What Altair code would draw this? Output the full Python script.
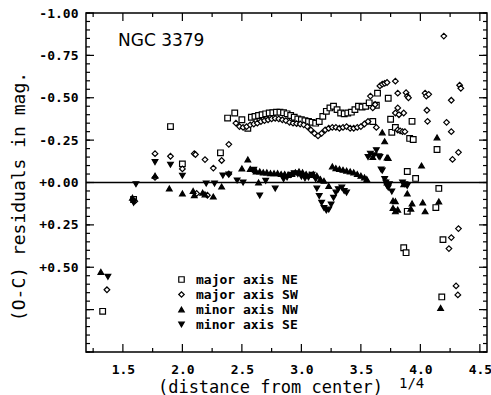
import altair as alt
import pandas as pd

# ---------------- data ----------------
series_names = ["major axis NE", "major axis SW", "minor axis NW", "minor axis SE"]

NE_x = [1.33, 1.59, 1.90, 2.00, 2.32, 2.38, 2.44, 2.50, 2.55,
        2.58, 2.61, 2.64, 2.67, 2.70, 2.73, 2.76, 2.79, 2.82, 2.85, 2.88, 2.91,
        2.94, 2.97, 3.00, 3.03, 3.06, 3.09, 3.12, 3.15, 3.18, 3.21, 3.24, 3.27,
        3.30, 3.33, 3.36, 3.39, 3.42, 3.45, 3.48, 3.51, 3.54, 3.57,
        3.60, 3.63, 3.64, 3.73, 3.75, 3.76, 3.79, 3.91, 3.94, 3.93, 4.14, 3.89,
        3.96, 4.155, 3.89, 4.13, 3.86, 3.88, 4.19, 4.18]
NE_y = [0.76, 0.10, -0.33, -0.11, -0.175, -0.38, -0.41, -0.37, -0.32,
        -0.385, -0.39, -0.395, -0.40, -0.405, -0.41, -0.412, -0.415, -0.415, -0.412, -0.405, -0.395,
        -0.385, -0.375, -0.37, -0.365, -0.36, -0.355, -0.35, -0.36, -0.39, -0.42, -0.44, -0.45,
        -0.43, -0.41, -0.405, -0.41, -0.415, -0.43, -0.45, -0.445, -0.45, -0.47,
        -0.36, -0.456, -0.527, -0.497, -0.373, -0.296, -0.325, -0.26, -0.254, -0.361, -0.195, -0.065,
        -0.024, 0.035, 0.17, 0.148, 0.385, 0.414, 0.337, 0.675]

SW_x = [1.366, 1.60, 1.77, 1.90, 2.00, 1.77, 2.10, 2.11, 2.19, 2.26, 2.33, 2.39, 2.45, 2.12, 2.21, 2.39, 2.60,
        2.48, 2.51, 2.54, 2.57, 2.60, 2.63, 2.66, 2.69, 2.72, 2.75, 2.78, 2.81, 2.84, 2.87, 2.90,
        2.93, 2.96, 2.99, 3.02, 3.05, 3.08, 3.11, 3.14, 3.17, 3.20, 3.23, 3.26, 3.29, 3.32, 3.35,
        3.38, 3.41, 3.44, 3.47, 3.50, 3.53, 3.56,
        3.58, 3.60, 3.62, 3.66, 3.68, 3.70, 3.72, 3.79, 3.81, 3.88, 3.89, 3.90, 4.04, 4.05, 4.07,
        4.33, 4.34, 4.26, 3.81, 3.79, 3.82, 3.86, 4.055, 4.06, 4.22, 3.63, 3.81, 3.83, 3.85, 3.87,
        4.26, 4.197, 4.27, 4.32, 4.32, 4.26, 4.24, 4.30, 4.315]
SW_y = [0.633, 0.11, -0.17, -0.155, -0.08, -0.03, -0.17, -0.165, -0.135, -0.085, -0.13, -0.225, -0.35, 0.065, 0.075, -0.05, -0.07,
        -0.33, -0.325, -0.33, -0.34, -0.345, -0.35, -0.36, -0.365, -0.37, -0.375, -0.378, -0.375, -0.37, -0.365, -0.355,
        -0.35, -0.347, -0.345, -0.34, -0.33, -0.31, -0.29, -0.275, -0.29, -0.31, -0.32, -0.325, -0.325, -0.32, -0.325,
        -0.33, -0.32, -0.32, -0.325, -0.33, -0.345, -0.36,
        -0.51, -0.44, -0.46, -0.57, -0.58, -0.585, -0.59, -0.598, -0.527, -0.53, -0.51, -0.50, -0.527, -0.51, -0.52,
        -0.574, -0.556, -0.485, -0.44, -0.41, -0.40, -0.41, -0.426, -0.361, -0.355, -0.325, -0.31, -0.305, -0.30, -0.30,
        -0.30, -0.864, -0.136, -0.178, 0.272, 0.325, 0.39, 0.61, 0.663]

NW_x = [1.315, 1.58, 1.77, 1.89, 2.00, 2.09, 2.10, 2.17, 2.19, 2.26, 2.33, 2.50, 2.55, 2.57, 2.64,
        2.62, 2.65, 2.68, 2.71, 2.74, 2.77, 2.80, 2.83, 2.86, 2.89, 2.92, 2.95, 2.98, 3.01, 3.04,
        3.07, 3.10, 3.13, 3.16, 3.19, 3.23,
        3.26, 3.29, 3.32, 3.35, 3.38, 3.41, 3.44, 3.47, 3.50, 3.53, 3.55,
        3.60, 3.68, 3.70, 3.72, 3.73, 4.14, 4.01, 3.72, 3.86, 3.89, 3.77, 3.79, 3.77, 3.79, 3.81,
        3.93, 3.92, 4.02, 4.04, 4.155, 4.17]
NW_y = [0.527, 0.09, -0.04, 0.035, 0.065, 0.05, 0.075, 0.06, 0.07, 0.083, 0.024, -0.083, -0.136, -0.08, 0.0,
        -0.065, -0.065, -0.06, -0.06, -0.055, -0.055, -0.055, -0.05, -0.05, -0.045, -0.05, -0.06, -0.065, -0.06, -0.05,
        -0.045, -0.05, -0.04, -0.02, -0.01, 0.02,
        -0.095, -0.085, -0.08, -0.075, -0.07, -0.065, -0.06, -0.05, -0.04, -0.03, -0.02,
        -0.15, -0.296, -0.243, -0.148, -0.145, -0.266, -0.10, 0.0, 0.01, 0.065, 0.107, 0.11, 0.15, 0.17, 0.16,
        0.124, 0.154, 0.118, 0.17, 0.112, 0.74]

SE_x = [1.374, 1.59, 1.61, 1.77, 1.90, 2.00, 2.20, 2.27, 2.34, 2.39, 2.46, 2.51, 2.60, 2.65, 2.70, 2.78,
        2.85, 2.88, 2.91, 2.94, 2.97, 3.00, 3.03, 3.06, 3.09, 3.12,
        3.13, 3.15, 3.17, 3.19, 3.21, 3.23, 3.25, 3.27, 3.29, 3.31, 3.34, 3.36, 3.38,
        3.56, 3.58, 3.61, 3.63, 3.65, 3.66, 3.67, 3.68, 3.70, 3.71, 3.72, 3.73, 3.74, 3.76,
        3.85, 3.87, 3.89]
SE_y = [0.556, 0.12, 0.01, -0.12, -0.105, -0.04, 0.006, 0.006, -0.041, -0.047, -0.012, 0.0, -0.075, 0.077, -0.01, 0.036,
        -0.02, -0.03, -0.045, -0.055, -0.05, -0.035, -0.025, -0.03, -0.045, -0.02,
        0.036, 0.08, 0.12, 0.15, 0.165, 0.16, 0.13, 0.09, 0.06, 0.04, 0.03, 0.05, 0.06,
        -0.15, -0.17, -0.16, -0.19, -0.154, -0.15, -0.077, -0.07, -0.02, 0.0, 0.02, 0.03, 0.01, 0.053,
        0.0, 0.01, 0.02]

x_label_values = [1.5, 2.0, 2.5, 3.0, 3.5, 4.0, 4.5]
y_label_values = [-1.0, -0.75, -0.5, -0.25, 0.0, 0.25, 0.5]
x_major_ticks = [1.5, 2.0, 2.5, 3.0, 3.5, 4.0, 4.5]
x_minor_ticks = [1.25, 1.75, 2.25, 2.75, 3.25, 3.75, 4.25]
y_major_ticks = [-1.0, -0.75, -0.5, -0.25, 0.0, 0.25, 0.5, 0.75, 1.0]
y_minor_ticks = [round(-1.0 + 0.05 * i, 2) for i in range(41)]

# ---------------- build tables ----------------
rows = []
for name, xs, ys in [(series_names[0], NE_x, NE_y), (series_names[1], SW_x, SW_y),
                     (series_names[2], NW_x, NW_y), (series_names[3], SE_x, SE_y)]:
    rows += [{"x": a, "y": b, "series": name} for a, b in zip(xs, ys)]
df = pd.DataFrame(rows)

W, H = 401, 339
MONO = "DejaVu Sans Mono"
xscale = alt.Scale(domain=[1.19, 4.56], nice=False, zero=False)
yscale = alt.Scale(domain=[-1.0, 1.0], nice=False, zero=False, reverse=True)

xaxis = alt.Axis(
    values=x_label_values, format=".1f", title="(distance from center)",
    titleX=184, titleY=40, titleBaseline="alphabetic", titleFontSize=17, labelPadding=11)
yaxis = alt.Axis(
    values=y_label_values,
    labelExpr="datum.value < 0 ? '-' + format(abs(datum.value), '.2f') : '+' + format(datum.value, '.2f')",
    title="(O-C) residuals in mag.", titleX=-62, titleY=183, titleAngle=270,
    titleBaseline="alphabetic", labelPadding=8)

def X(field="x"):
    return alt.X(f"{field}:Q", scale=xscale, axis=xaxis)

def Y(field="y"):
    return alt.Y(f"{field}:Q", scale=yscale, axis=yaxis)

legend = alt.Legend(
    title=None, orient="none", legendX=89, legendY=260, padding=0,
    symbolSize=30, symbolStrokeColor="black", symbolStrokeWidth=1.2,
    labelFont=MONO, labelFontSize=13, labelFontWeight="bold", labelColor="black",
    labelOffset=8, rowPadding=1,
)

points = alt.Chart(df).mark_point(
    filled=True, strokeWidth=1.2, size=32, opacity=1
).encode(
    x=X(), y=Y(),
    shape=alt.Shape("series:N", scale=alt.Scale(
        domain=series_names, range=["square", "diamond", "triangle-up", "triangle-down"]), legend=legend),
    fill=alt.Fill("series:N", scale=alt.Scale(
        domain=series_names, range=["white", "white", "black", "black"]), legend=legend),
    stroke=alt.Stroke("series:N", scale=alt.Scale(
        domain=series_names, range=["black", "black", "black", "black"]), legend=legend),
)

zero = alt.Chart(pd.DataFrame({"y": [0.0]})).mark_rule(color="black", strokeWidth=1.4).encode(y=Y())

def yticks(vals, length):
    d = pd.DataFrame({"y": vals})
    left = alt.Chart(d).mark_rule(color="black", strokeWidth=1.2).encode(
        y=Y(), x=alt.value(0), x2=alt.value(length))
    right = alt.Chart(d).mark_rule(color="black", strokeWidth=1.2).encode(
        y=Y(), x=alt.value(W), x2=alt.value(W - length))
    return [left, right]

def xticks(vals, length):
    d = pd.DataFrame({"x": vals})
    bottom = alt.Chart(d).mark_rule(color="black", strokeWidth=1.2).encode(
        x=X(), y=alt.value(H), y2=alt.value(H - length))
    top = alt.Chart(d).mark_rule(color="black", strokeWidth=1.2).encode(
        x=X(), y=alt.value(0), y2=alt.value(length))
    return [bottom, top]

ngc = alt.Chart(pd.DataFrame({"t": ["NGC 3379"]})).mark_text(
    align="left", baseline="alphabetic", font="DejaVu Sans", fontSize=17, color="black"
).encode(text="t:N", x=alt.value(32), y=alt.value(33))

sup = alt.Chart(pd.DataFrame({"t": ["1/4"]})).mark_text(
    align="left", baseline="alphabetic", font=MONO, fontSize=14, color="black"
).encode(text="t:N", x=alt.value(313), y=alt.value(375))

layers = [points, zero] + yticks(y_major_ticks, 8) + yticks(y_minor_ticks, 4) \
    + xticks(x_major_ticks, 8) + xticks(x_minor_ticks, 4) + [ngc, sup]

chart = alt.layer(*layers).properties(
    width=W, height=H,
    padding={"left": 86, "top": 13, "right": 4, "bottom": 43},
    autosize=alt.AutoSizeParams(type="none"),
    background="white",
).configure_view(
    stroke="black", strokeWidth=1.5
).configure_axis(
    domain=False, ticks=False, tickSize=0, grid=False,
    labelFont=MONO, labelFontSize=13, labelFontWeight="bold", labelColor="black",
    titleFont=MONO, titleFontSize=18, titleFontWeight="normal", titleColor="black",
)

chart.save("out.html", embed_options={"renderer": "svg", "actions": False})
